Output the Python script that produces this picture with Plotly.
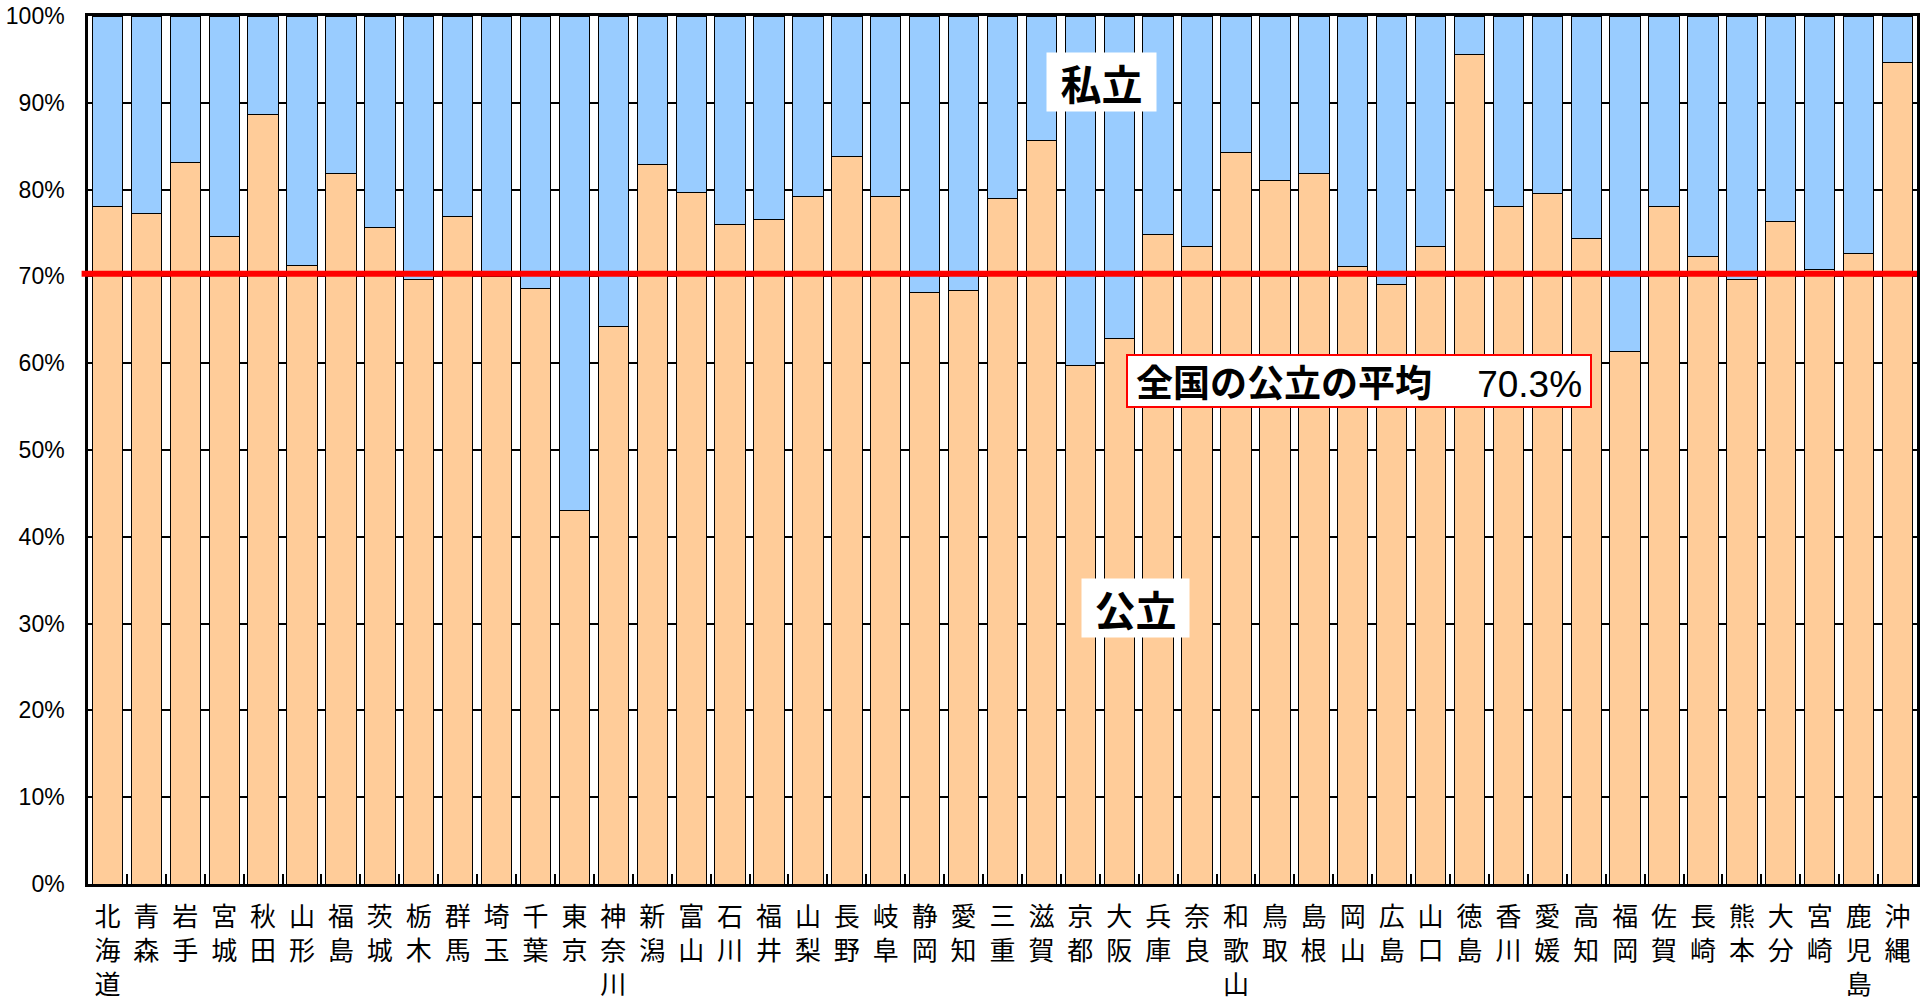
import plotly.graph_objects as go

# 都道府県別 公立・私立の構成比（%）
prefectures = [
    "北海道", "青森", "岩手", "宮城", "秋田", "山形", "福島", "茨城", "栃木", "群馬",
    "埼玉", "千葉", "東京", "神奈川", "新潟", "富山", "石川", "福井", "山梨", "長野",
    "岐阜", "静岡", "愛知", "三重", "滋賀", "京都", "大阪", "兵庫", "奈良", "和歌山",
    "鳥取", "島根", "岡山", "広島", "山口", "徳島", "香川", "愛媛", "高知", "福岡",
    "佐賀", "長崎", "熊本", "大分", "宮崎", "鹿児島", "沖縄",
]
public_share = [
    78.1, 77.2, 83.1, 74.6, 88.7, 71.2, 81.8, 75.6, 69.6, 76.9,
    70.0, 68.6, 43.0, 64.2, 82.9, 79.7, 76.0, 76.5, 79.2, 83.8,
    79.2, 68.1, 68.4, 79.0, 85.7, 59.7, 62.9, 74.8, 73.4, 84.3,
    81.0, 81.8, 71.1, 69.1, 73.4, 95.6, 78.1, 79.5, 74.4, 61.3,
    78.1, 72.3, 69.6, 76.3, 70.8, 72.6, 94.7,
]
private_share = [
    21.9, 22.8, 16.9, 25.4, 11.3, 28.8, 18.2, 24.4, 30.4, 23.1,
    30.0, 31.4, 57.0, 35.8, 17.1, 20.3, 24.0, 23.5, 20.8, 16.2,
    20.8, 31.9, 31.6, 21.0, 14.3, 40.3, 37.1, 25.2, 26.6, 15.7,
    19.0, 18.2, 28.9, 30.9, 26.6, 4.4, 21.9, 20.5, 25.6, 38.7,
    21.9, 27.7, 30.4, 23.7, 29.2, 27.4, 5.3,
]
national_public_avg = 70.3

y_ticks = list(range(0, 101, 10))
y_tick_text = [f"{v}%" for v in y_ticks]

# 縦書き風のラベル（1文字ずつ改行）
x_tick_text = ["<br>".join(name) for name in prefectures]

PUBLIC_COLOR = "#FFCC99"
PRIVATE_COLOR = "#99CCFF"
JP_FONT = "Noto Sans CJK JP"

fig = go.Figure()
fig.add_trace(go.Bar(
    x=prefectures, y=public_share, name="公立",
    marker=dict(color=PUBLIC_COLOR, line=dict(color="black", width=1)),
    hoverinfo="skip",
))
fig.add_trace(go.Bar(
    x=prefectures, y=private_share, name="私立",
    marker=dict(color=PRIVATE_COLOR, line=dict(color="black", width=1)),
    hoverinfo="skip",
))

# 全国平均の線
fig.add_shape(
    type="line", xref="paper", yref="y",
    x0=-0.0035, x1=1.0, y0=national_public_avg, y1=national_public_avg,
    line=dict(color="#FF0000", width=6), layer="above",
)

label_font = dict(family=JP_FONT, size=41, color="black", weight="bold")
fig.add_annotation(
    text="私立", xref="paper", yref="paper", x=0.5544, y=0.924,
    xanchor="center", yanchor="middle",
    showarrow=False, bgcolor="white", borderpad=0, width=109, height=58,
    font=label_font,
)
fig.add_annotation(
    text="公立", xref="paper", yref="paper", x=0.5727, y=0.318,
    xanchor="center", yanchor="middle",
    showarrow=False, bgcolor="white", borderpad=0, width=107, height=58,
    font=label_font,
)
fig.add_annotation(
    text=("<b>全国の公立の平均</b>　 "
          "<span style='font-family:Liberation Sans;font-size:37px'>"
          f"{national_public_avg}%</span>"),
    xref="paper", yref="paper", x=0.695, y=0.579,
    xanchor="center", yanchor="middle",
    showarrow=False, bgcolor="white", bordercolor="#FF0000", borderwidth=2,
    borderpad=0, width=462, height=50,
    font=dict(family=JP_FONT, size=37, color="black"),
)

fig.update_layout(
    width=1926, height=1003,
    margin=dict(l=88, r=9, t=16, b=119),
    barmode="stack", bargap=0.22,
    paper_bgcolor="white", plot_bgcolor="white",
    showlegend=False,
    xaxis=dict(
        type="category", tickmode="array", tickvals=prefectures, ticktext=x_tick_text,
        tickfont=dict(family=JP_FONT, size=26, color="black"),
        ticks="inside", tickson="boundaries", ticklen=10, tickwidth=1.5, tickcolor="black",
        ticklabelstandoff=8, automargin=False,
        showline=True, linecolor="black", linewidth=2.5, mirror=True,
        showgrid=False, fixedrange=True,
    ),
    yaxis=dict(
        range=[0, 100], tickmode="array", tickvals=y_ticks, ticktext=y_tick_text,
        tickfont=dict(family="Liberation Sans Narrow, Liberation Sans", size=23, color="black"),
        ticks="", ticklabelstandoff=16, automargin=False,
        showline=True, linecolor="black", linewidth=2.5, mirror=True,
        showgrid=True, gridcolor="black", gridwidth=1.5,
        zeroline=False, fixedrange=True,
    ),
)

fig.write_html("out.html", config={"displayModeBar": False})
